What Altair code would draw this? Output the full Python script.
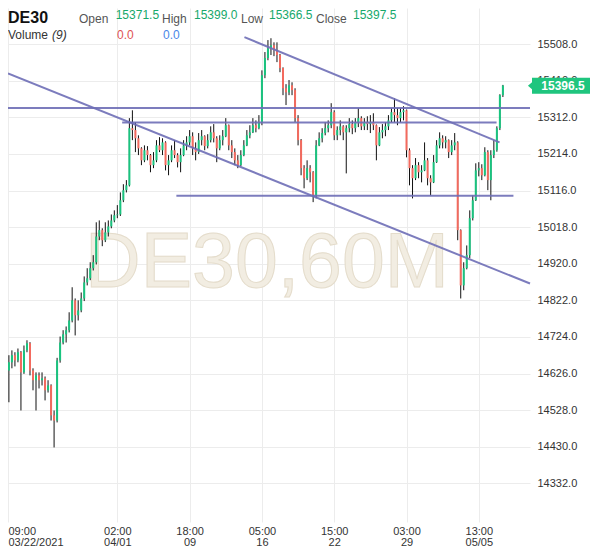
import altair as alt
import pandas as pd

FONT = "Liberation Sans"
GREEN = "#19c47f"
RED = "#f36a5e"
LINE = "#6e6eb6"

# hourly DE30 candles
opens = [
    14634, 14656, 14675, 14661, 14683, 14629, 14688, 14707, 14634, 14608,
    14621, 14608, 14613, 14581, 14594, 14514, 14500, 14661, 14709, 14731,
    14742, 14768, 14822, 14782, 14795, 14827, 14870, 14881, 14908, 14924,
    14993, 15010, 14983, 15004, 15020, 15036, 15050, 15052, 15090, 15117,
    15130, 15283, 15278, 15256, 15229, 15197, 15224, 15211, 15184, 15197,
    15237, 15224, 15245, 15184, 15197, 15224, 15211, 15192, 15211, 15237,
    15245, 15261.5, 15229, 15219, 15251, 15261.5, 15235, 15251, 15272, 15256,
    15229, 15251, 15261.5, 15291, 15237, 15219, 15197, 15184, 15211, 15237,
    15264, 15272, 15291, 15283, 15299, 15425, 15471, 15497, 15505, 15492,
    15479, 15444, 15390, 15379, 15398, 15385, 15310, 15251, 15176, 15149,
    15176, 15165, 15103, 15237, 15256, 15270, 15283, 15291, 15326, 15264,
    15278, 15288, 15272, 15283, 15294, 15283, 15299, 15310, 15288, 15299,
    15294, 15299, 15291, 15237, 15272, 15278, 15288, 15304, 15326, 15318,
    15310, 15326, 15331, 15224, 15176, 15149, 15184, 15165, 15170, 15197,
    15149, 15138, 15192, 15237, 15256, 15245, 15251, 15219, 15237, 15245,
    15010, 14862, 14908, 14943, 15042, 15090, 15170, 15176, 15157, 15219,
    15144, 15211, 15224, 15283, 15371.5,
]
highs = [
    14675, 14688, 14683, 14693, 14686, 14701, 14715, 14710, 14640, 14629,
    14629, 14629, 14618, 14608, 14597, 14527, 14668, 14725, 14742, 14752,
    14790, 14857, 14827, 14822, 14843, 14886, 14908, 14924, 14943, 15031,
    15036, 15015, 15031, 15036, 15052, 15063, 15077, 15111, 15133, 15144,
    15310, 15331, 15299, 15264, 15232, 15237, 15235, 15214, 15219, 15251,
    15259, 15256, 15248, 15211, 15237, 15251, 15216, 15229, 15251, 15261.5,
    15278, 15272, 15245, 15270, 15278, 15264, 15267, 15288, 15294, 15261.5,
    15264, 15278, 15310, 15293, 15251, 15229, 15211, 15224, 15251, 15278,
    15291, 15310, 15304, 15318, 15438, 15487, 15519, 15524, 15513, 15513,
    15482, 15446, 15401, 15412, 15406, 15390, 15318, 15254, 15184, 15197,
    15184, 15168, 15251, 15272, 15283, 15299, 15304, 15350, 15331, 15288,
    15304, 15291, 15291, 15310, 15304, 15310, 15337, 15315, 15310, 15315,
    15318, 15323, 15293, 15286, 15294, 15299, 15318, 15337, 15363, 15337,
    15337, 15342, 15333, 15229, 15184, 15203, 15192, 15184, 15245, 15203,
    15157, 15211, 15251, 15272, 15264, 15261.5, 15253, 15251, 15270, 15248,
    15012, 14924, 14969, 15063, 15103, 15189, 15192, 15186.5, 15232, 15224,
    15224, 15251, 15288, 15374, 15399,
]
lows = [
    14549, 14640, 14645, 14656, 14527, 14625, 14683, 14621, 14581, 14527,
    14586, 14594, 14554, 14575, 14500, 14428, 14495, 14655, 14704, 14709,
    14736, 14763, 14728, 14768, 14790, 14820, 14862, 14876, 14902, 14918,
    14983, 14967, 14978, 14993, 15015, 15031, 15042, 15048, 15085, 15111,
    15127, 15251, 15219, 15211, 15184, 15192, 15197, 15165, 15176, 15192,
    15219, 15211, 15170, 15157, 15192, 15203, 15178, 15165, 15208, 15224,
    15237, 15211, 15197, 15214, 15237, 15224, 15229, 15245, 15245, 15192,
    15224, 15237, 15259, 15224, 15203, 15184, 15176, 15181, 15208, 15235,
    15256, 15270, 15272, 15280, 15291, 15417, 15465, 15479, 15476, 15460,
    15433, 15371.5, 15345, 15371.5, 15371.5, 15299, 15237, 15157, 15122, 15144,
    15138, 15085, 15095, 15235, 15245, 15264, 15272, 15283, 15251, 15251,
    15264, 15251, 15162, 15272, 15267, 15272, 15286, 15278, 15278, 15278,
    15270, 15278, 15197, 15235, 15256, 15261.5, 15278, 15299, 15299, 15291,
    15299, 15304, 15205, 15130, 15095, 15144, 15149, 15138, 15168, 15130,
    15103, 15136, 15190, 15229, 15229, 15229, 15203, 15211, 15224, 14983,
    14827, 14849, 14905, 14935, 15036, 15088, 15154, 15144, 15154, 15117,
    15090, 15203, 15220, 15278, 15366.5,
]
closes = [
    14656, 14675, 14661, 14683, 14629, 14688, 14707, 14634, 14608, 14621,
    14608, 14613, 14581, 14594, 14514, 14500, 14661, 14709, 14731, 14742,
    14768, 14822, 14782, 14795, 14827, 14870, 14881, 14908, 14924, 14993,
    15010, 14983, 15004, 15020, 15036, 15050, 15052, 15090, 15117, 15130,
    15283, 15278, 15256, 15229, 15197, 15224, 15211, 15184, 15197, 15237,
    15224, 15245, 15184, 15197, 15224, 15211, 15192, 15211, 15237, 15245,
    15261.5, 15229, 15219, 15251, 15261.5, 15235, 15251, 15272, 15256, 15229,
    15251, 15261.5, 15291, 15237, 15219, 15197, 15184, 15211, 15237, 15264,
    15272, 15291, 15283, 15299, 15425, 15471, 15497, 15505, 15492, 15479,
    15444, 15390, 15379, 15398, 15385, 15310, 15251, 15176, 15149, 15176,
    15165, 15103, 15237, 15256, 15270, 15283, 15291, 15326, 15264, 15278,
    15288, 15272, 15283, 15294, 15283, 15299, 15310, 15288, 15299, 15294,
    15299, 15291, 15237, 15272, 15278, 15288, 15304, 15326, 15318, 15310,
    15326, 15331, 15224, 15176, 15149, 15184, 15165, 15170, 15197, 15149,
    15138, 15192, 15237, 15256, 15245, 15251, 15219, 15237, 15245, 15010,
    14862, 14908, 14943, 15042, 15090, 15170, 15176, 15157, 15219, 15144,
    15211, 15224, 15283, 15371.5, 15397.5,
]

# x-axis tick labels (candle index -> time / date)
xtick_idx = [-0.3, 36, 60, 84, 108, 132, 156]
xtick_time = ["09:00", "02:00", "18:00", "05:00", "15:00", "03:00", "13:00"]
xtick_date = ["03/22/2021", "04/01", "09", "16", "22", "29", "05/05"]

# y-axis tick labels
ytick_values = [15508, 15410, 15312, 15214, 15116, 15018, 14920,
                14822, 14724, 14626, 14528, 14430, 14332]

# drawn trend lines (candle index, price)
line_ids = ["res_top", "res_mid", "support", "chan_low", "chan_high"]
line_x0 = [-0.3, 37.6, 55.6, -0.3, 78.2]
line_p0 = [15337, 15298, 15102, 15430, 15527]
line_x1 = [173.0, 161.9, 167.5, 173.0, 162.9]
line_p1 = [15337, 15298, 15102, 14867, 15245]

last_price = [15396.5]
last_label = ["15396.5"]

n = min(len(opens), len(highs), len(lows), len(closes))
candles = pd.DataFrame({
    "idx": list(range(n)),
    "open": opens[:n], "high": highs[:n], "low": lows[:n], "close": closes[:n],
})
candles["dir"] = ["up" if c >= o else "down" for o, c in zip(candles["open"], candles["close"])]

rows = []
for lid, a, b, c, d in zip(line_ids, line_x0, line_p0, line_x1, line_p1):
    rows.append({"line": lid, "idx": a, "price": b})
    rows.append({"line": lid, "idx": c, "price": d})
lines_df = pd.DataFrame(rows)

last_df = pd.DataFrame({"price": last_price, "label": last_label})
dummy = pd.DataFrame({"k": [0]})

parts = []
for v, t, d in zip(xtick_idx, xtick_time, xtick_date):
    cond = "datum.value < 0" if v < 0 else f"datum.value == {v}"
    parts.append(f"{cond} ? ['{t}', '{d}']")
label_expr = " : ".join(parts) + " : ''"

xscale = alt.Scale(domain=[-0.3, 173.0], nice=False, zero=False, padding=0)
yscale = alt.Scale(domain=[14228.3, 15604.95], nice=False, zero=False, padding=0)

xaxis = alt.Axis(values=xtick_idx, labelExpr=label_expr, title=None, grid=True,
                 gridColor="#ececec", domain=False, ticks=False, labelPadding=3,
                 labelFontSize=11, labelLineHeight=11, labelColor="#333333",
                 labelFont=FONT, labelOverlap=False, labelBaseline="top",
                 labelAlign={"condition": {"test": "datum.value < 0", "value": "left"},
                             "value": "center"})
yaxis = alt.Axis(orient="right", values=ytick_values, format=".1f", title=None,
                 grid=True, gridColor="#ececec", domain=False, ticks=False,
                 labelPadding=7, labelFontSize=11, labelColor="#333333",
                 labelFont=FONT)


def X(field):
    return alt.X(field, scale=xscale, axis=xaxis)


def Y(field):
    return alt.Y(field, scale=yscale, axis=yaxis)


watermark = alt.Chart(dummy).mark_text(
    text="DE30,60M", font=FONT, fontSize=77, color="#f2ede2", stroke="#e4dccb",
    strokeWidth=1, align="center", baseline="alphabetic"
).encode(x=alt.value(259), y=alt.value(279))

wicks = alt.Chart(candles).mark_rule(color="#111111", strokeWidth=1).encode(
    x=X("idx:Q"), y=Y("low:Q"), y2="high:Q"
)
bodies = alt.Chart(candles).mark_bar(size=2).encode(
    x=X("idx:Q"), y=Y("open:Q"), y2="close:Q",
    color=alt.Color("dir:N", scale=alt.Scale(domain=["up", "down"], range=[GREEN, RED]),
                    legend=None),
)
trend = alt.Chart(lines_df).mark_line(color=LINE, strokeWidth=2, opacity=0.9).encode(
    x=X("idx:Q"), y=Y("price:Q"), detail="line:N"
)

BOX = "M-1.14,0L-1,-0.12L-1,-0.276L1,-0.276L1,0.276L-1,0.276L-1,0.12Z"
price_box = alt.Chart(last_df).mark_point(
    shape=BOX, size=3364, filled=True, color="#1fc57e", opacity=1, strokeWidth=0
).encode(x=alt.value(553), y=Y("price:Q"))
price_txt = alt.Chart(last_df).mark_text(
    color="white", fontWeight="bold", fontSize=12, font=FONT, align="center",
    baseline="middle"
).encode(x=alt.value(555), y=Y("price:Q"), text="label:N")


def txt(s, x, y, color, size=12, weight="normal", style="normal"):
    return alt.Chart(dummy).mark_text(
        text=s, align="left", baseline="alphabetic", fontSize=size,
        fontWeight=weight, fontStyle=style, color=color, font=FONT
    ).encode(x=alt.value(x), y=alt.value(y))


HG = "#16a86b"
header = [
    txt("DE30", 0, 14.5, "#111111", 16, "bold"),
    txt("Open", 71, 14.5, "#555555"),
    txt("15371.5", 107.7, 11, HG),
    txt("High", 154, 14.5, "#555555"),
    txt("15399.0", 186, 11, HG),
    txt("Low", 233, 14.5, "#555555"),
    txt("15366.5", 261, 11, HG),
    txt("Close", 308, 14.5, "#555555"),
    txt("15397.5", 345, 11, HG),
    txt("Volume", 0, 31, "#333333"),
    txt("(9)", 44, 31, "#333333", 12, "normal", "italic"),
    txt("0.0", 109, 31, "#e05252"),
    txt("0.0", 155, 31, "#4a86e8"),
]

chart = alt.layer(
    watermark, wicks, bodies, trend, price_box, price_txt, *header
).properties(
    width=522, height=514,
    padding={"left": 0, "top": 0, "right": 62, "bottom": 27},
    autosize=alt.AutoSizeParams(type="none"),
    background="white",
).configure_view(stroke=None)

chart.save("out.html", embed_options={"renderer": "svg", "actions": False})
